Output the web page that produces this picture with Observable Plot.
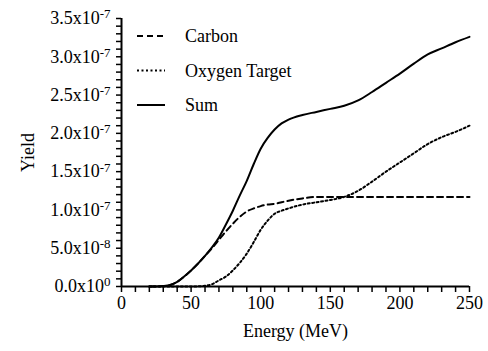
<!DOCTYPE html>
<html><head><meta charset="utf-8">
<script src="https://cdn.jsdelivr.net/npm/d3@7"></script>
<script src="https://cdn.jsdelivr.net/npm/@observablehq/plot@0.6"></script>
</head><body style="margin:0">
<div id="o"></div>
<script>
const energy = [20,25,30,35,40,45,50,55,60,65,70,75,80,85,90,95,100,105,110,115,120,130,140,150,160,170,180,190,200,210,220,230,240,250];
const carbon = [0,0,0.005,0.02,0.06,0.13,0.21,0.30,0.40,0.50,0.61,0.72,0.82,0.91,0.98,1.02,1.05,1.07,1.08,1.10,1.12,1.15,1.17,1.17,1.17,1.17,1.17,1.17,1.17,1.17,1.17,1.17,1.17,1.17];
const oxygen = [0,0,0,0,0,0,0,0.002,0.01,0.03,0.08,0.13,0.21,0.31,0.43,0.58,0.74,0.86,0.95,0.99,1.02,1.07,1.10,1.13,1.17,1.25,1.37,1.50,1.62,1.74,1.86,1.95,2.02,2.10];
const sum = [0,0,0.005,0.02,0.06,0.13,0.21,0.30,0.40,0.51,0.64,0.81,0.99,1.19,1.38,1.60,1.80,1.94,2.05,2.13,2.18,2.24,2.28,2.32,2.36,2.43,2.54,2.66,2.78,2.91,3.03,3.11,3.19,3.26];
const seriesNames = ["Carbon","Oxygen Target","Sum"];
const xTicks = d3.range(0, 26).map(i => i * 10);
const yTicks = d3.range(0, 36).map(i => i * 1e-8);
const yLabels = {0:"0.0x10^0",5:"5.0x10^-8",10:"1.0x10^-7",15:"1.5x10^-7",20:"2.0x10^-7",25:"2.5x10^-7",30:"3.0x10^-7",35:"3.5x10^-7"};

const rows = [];
seriesNames.forEach((name, k) => {
  const vals = [carbon, oxygen, sum][k];
  energy.forEach((e, i) => rows.push({series: name, e, y: vals[i] * 1e-7}));
});
const dashes = {"Carbon":"6,4","Oxygen Target":"2,2.5","Sum":null};

const svg = Plot.plot({
  width: 488, height: 351,
  marginLeft: 121, marginRight: 19, marginTop: 18, marginBottom: 65,
  style: {fontFamily: "Liberation Serif", fontSize: "18px"},
  x: {domain: [0, 250]},
  y: {domain: [0, 3.5e-7]},
  marks: [
    Plot.axisX({ticks: xTicks, tickSize: 6, tickPadding: 4, strokeWidth: 1.5,
      tickFormat: d => d % 50 === 0 ? String(d) : "",
      label: "Energy (MeV)", labelAnchor: "center", labelOffset: 50, labelArrow: "none"}),
    Plot.axisY({ticks: yTicks, tickSize: 5, tickPadding: 6, strokeWidth: 1.5,
      tickFormat: d => { const i = Math.round(d / 1e-8); return yLabels[i] || ""; },
      label: "Yield", labelAnchor: "center", labelOffset: 100, labelArrow: "none"}),
    ...seriesNames.map(name => Plot.line(rows.filter(r => r.series === name), {
      x: "e", y: "y", stroke: "black", strokeWidth: 2, curve: "monotone-x",
      strokeDasharray: dashes[name]
    })),
    Plot.ruleX([0], {stroke: "black", strokeWidth: 2}),
    Plot.ruleY([0], {stroke: "black", strokeWidth: 2})
  ]
});

d3.select(svg).selectAll('g[aria-label="y-axis tick label"] text').each(function() {
  const t = this.textContent;
  if (!t.includes("^")) return;
  const [m, ex] = t.split("^");
  this.textContent = m;
  d3.select(this).append("tspan").attr("dy", "-0.45em").attr("font-size", "13px").text(ex);
});

const lg = d3.select(svg).append("g");
seriesNames.forEach((name, i) => {
  const cy = 36 + i * 34.5;
  lg.append("line").attr("x1", 137).attr("x2", 165).attr("y1", cy).attr("y2", cy)
    .attr("stroke", "black").attr("stroke-width", 2)
    .attr("stroke-dasharray", dashes[name]);
  lg.append("text").attr("x", 185).attr("y", cy).attr("dy", "0.35em")
    .attr("text-anchor", "start").attr("font-size", 18).attr("font-family", "Liberation Serif").text(name);
});

document.getElementById("o").appendChild(svg);
</script></body></html>
